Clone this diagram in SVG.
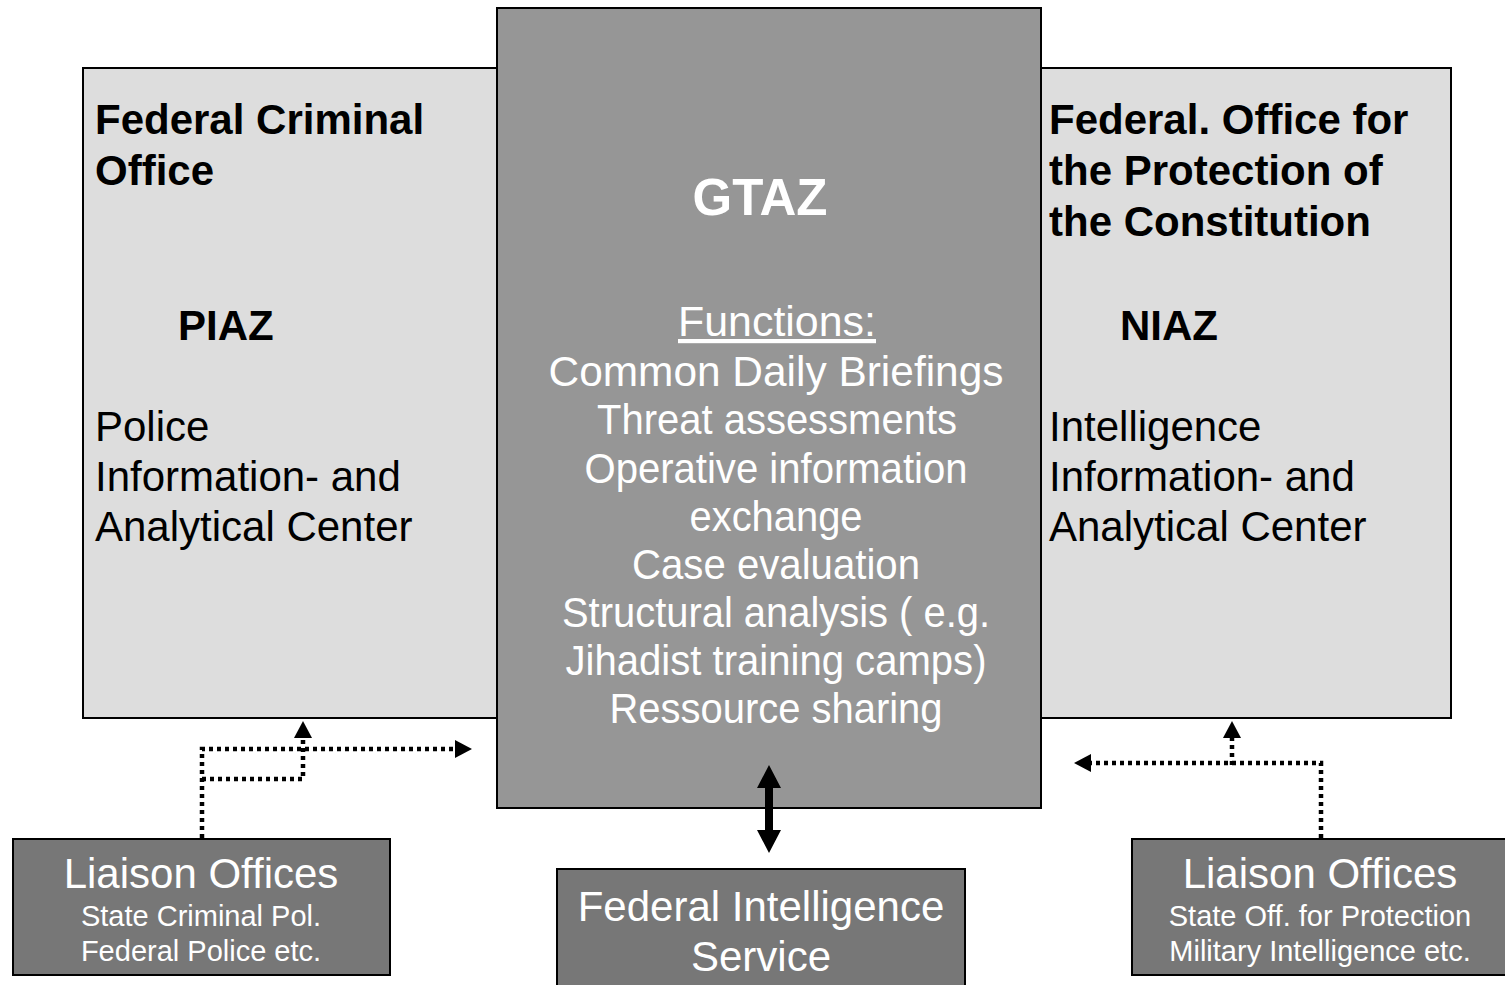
<svg xmlns="http://www.w3.org/2000/svg" width="1505" height="985" viewBox="0 0 1505 985">
<style>
.box{stroke:#000;stroke-width:2}
.light{fill:#dddddd}
.mid{fill:#969696}
.dark{fill:#777777}
text{font-family:"Liberation Sans",Arial,sans-serif}
.b{font-weight:bold;font-size:42px;fill:#000}
.r{font-size:42px;fill:#000}
.w{font-size:42px;fill:#fff;text-anchor:middle}
.ws{font-size:29px;fill:#fff;text-anchor:middle}
.dot{fill:none;stroke:#000;stroke-width:4.5;stroke-dasharray:4 4}
</style>
<defs>
<marker id="ah" markerUnits="userSpaceOnUse" markerWidth="18" markerHeight="18" refX="1" refY="9" orient="auto" viewBox="0 0 18 18">
<path d="M0,0 L17,9 L0,18 Z" fill="#000"/>
</marker>
</defs>
<g id="bfk">
<rect class="box light" x="83" y="68" width="420" height="650"/>
<text class="b" x="95" y="134">Federal Criminal</text>
<text class="b" x="95" y="185">Office</text>
<text class="b" x="178" y="340">PIAZ</text>
<text class="r" x="95" y="441">Police</text>
<text class="r" x="95" y="491">Information- and</text>
<text class="r" x="95" y="541">Analytical Center</text>
</g>
<g id="bfv">
<rect class="box light" x="1035" y="68" width="416" height="650"/>
<text class="b" x="1049" y="134">Federal. Office for</text>
<text class="b" x="1049" y="185">the Protection of</text>
<text class="b" x="1049" y="236">the Constitution</text>
<text class="b" x="1120" y="340">NIAZ</text>
<text class="r" x="1049" y="441">Intelligence</text>
<text class="r" x="1049" y="491">Information- and</text>
<text class="r" x="1049" y="541">Analytical Center</text>
</g>
<g id="gtaz">
<rect class="box mid" x="497" y="8" width="544" height="800"/>
<text class="w" x="760" y="215" style="font-weight:bold;font-size:51px">GTAZ</text>
<text class="w" x="777" y="336" text-decoration="underline" textLength="198" lengthAdjust="spacingAndGlyphs">Functions:</text>
<text class="w" x="776" y="386" textLength="455" lengthAdjust="spacingAndGlyphs">Common Daily Briefings</text>
<text class="w" x="777" y="434" textLength="360" lengthAdjust="spacingAndGlyphs">Threat assessments</text>
<text class="w" x="776" y="483" textLength="383" lengthAdjust="spacingAndGlyphs">Operative information</text>
<text class="w" x="776" y="531" textLength="173" lengthAdjust="spacingAndGlyphs">exchange</text>
<text class="w" x="776" y="579" textLength="288" lengthAdjust="spacingAndGlyphs">Case evaluation</text>
<text class="w" x="776" y="627" textLength="428" lengthAdjust="spacingAndGlyphs">Structural analysis ( e.g.</text>
<text class="w" x="776" y="675" textLength="421" lengthAdjust="spacingAndGlyphs">Jihadist training camps)</text>
<text class="w" x="776" y="723" textLength="333" lengthAdjust="spacingAndGlyphs">Ressource sharing</text>
</g>
<g id="liaison-left">
<rect class="box dark" x="13" y="839" width="377" height="136"/>
<text class="w" x="201" y="888">Liaison Offices</text>
<text class="ws" x="201" y="926">State Criminal Pol.</text>
<text class="ws" x="201" y="961">Federal Police etc.</text>
</g>
<g id="liaison-right">
<rect class="box dark" x="1132" y="839" width="380" height="136"/>
<text class="w" x="1320" y="888">Liaison Offices</text>
<text class="ws" x="1320" y="926">State Off. for Protection</text>
<text class="ws" x="1320" y="961">Military Intelligence etc.</text>
</g>
<g id="bnd">
<rect class="box dark" x="557" y="869" width="408" height="130"/>
<text class="w" x="761" y="921">Federal Intelligence</text>
<text class="w" x="761" y="971">Service</text>
</g>
<g id="connectors">
<path class="dot" d="M202,838 V749 H456" marker-end="url(#ah)"/>
<path class="dot" d="M202,779 H303 V737" marker-end="url(#ah)"/>
<path class="dot" d="M1321,838 V763 H1090" marker-end="url(#ah)"/>
<path class="dot" d="M1232,765 V737" marker-end="url(#ah)"/>
<polygon fill="#000" points="769,765 781,788 773,788 773,830 781,830 769,853 757,830 765,830 765,788 757,788"/>
</g>
</svg>
